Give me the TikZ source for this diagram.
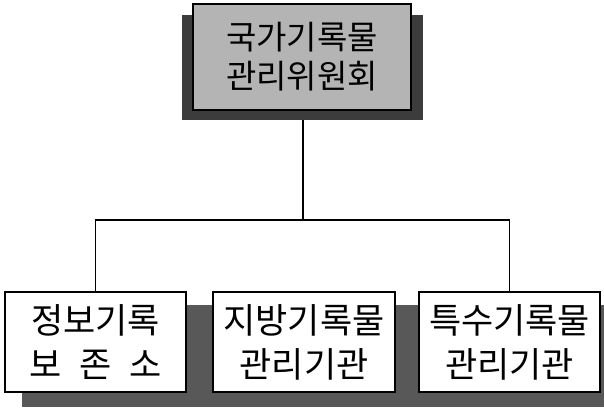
\documentclass[tikz,border=0pt]{standalone}
\usepackage{fontspec}
\newfontfamily\kr{Noto Sans CJK KR}
\definecolor{topfill}{HTML}{B4B4B4}
\definecolor{shadowc}{HTML}{3C3C3C}
\definecolor{bandc}{HTML}{585858}
\begin{document}
\begin{tikzpicture}[x=1pt,y=-1pt,
  conn/.style={draw=black,line width=1.4pt},
  topbox/.style={draw=black,line width=1.2pt,fill=topfill,minimum width=218pt,minimum height=106pt,inner sep=0pt,align=center,font=\kr\fontsize{33}{39}\selectfont},
  lowbox/.style={draw=black,line width=1.4pt,fill=white,minimum height=100pt,inner sep=0pt,align=center,font=\kr\fontsize{35}{44}\selectfont}]
\useasboundingbox (0,0) rectangle (604,407);
\fill[white] (0,0) rectangle (604,407);
% dark band behind lower boxes
\fill[bandc] (22,305) rectangle (604,407);
% nodes
\node[lowbox,minimum width=181pt] (b1) at (95.5,342) {정보기록\\보\hspace{0.5em}존\hspace{0.5em}소};
\node[lowbox,minimum width=182pt] (b2) at (304,342) {지방기록물\\관리기관};
\node[lowbox,minimum width=181pt] (b3) at (509.5,342) {특수기록물\\관리기관};
% connectors
\coordinate (j) at (303,220);
\draw[conn] (303,110) -- (j);
\draw[conn] (b1.north) |- (j) -| (b3.north);
% top box with shadow
\fill[shadowc] (182,15) rectangle (423,120);
\node[topbox] (top) at (302,57) {국가기록물\\관리위원회};
\end{tikzpicture}
\end{document}
